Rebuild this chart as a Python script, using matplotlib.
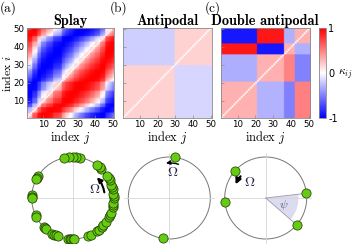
import numpy as np
import matplotlib.pyplot as plt
from matplotlib.patches import Circle, Wedge, FancyArrowPatch

plt.rcParams['mathtext.fontset'] = 'cm'
plt.rcParams['axes.unicode_minus'] = False

# === Daten ===============================================================
# Phasen der 50 Oszillatoren (Grad), in Indexreihenfolge
phase_splay = [148, 150, 152, 176, 178, 180, 205, 207, 226, 228, 230,
               240, 243, 246, 249, 264, 266, 268, 270, 272,
               292, 297, 306, 309, 315, 318, 324,
               333, 336, 339, 347, 350, 353, 360, 363, 366, 373, 376, 379,
               386, 389, 392, 406, 409, 414, 440, 445, 450, 455, 462]
anti_sizes = [29, 21]
anti_phases = [82, 261]
double_sizes = [20, 15, 6, 9]
double_phases = [6.6, 186, 319, 139]
gamma_splay, gamma_anti, gamma_double = 77, 80, 72   # Phasenversatz (Grad)

titles = ["Splay", "Antipodal", "Double antipodal"]
panel_labels = ["(a)", "(b)", "(c)"]
ticks = [10, 20, 30, 40, 50]


def expand(sizes, phases):
    return np.repeat(phases, sizes)


def coupling(phases, gamma):
    p = np.deg2rad(np.asarray(phases, dtype=float))
    k = np.cos(p[None, :] - p[:, None] - np.deg2rad(gamma))
    np.fill_diagonal(k, 0)
    return k


kappas = [coupling(phase_splay, gamma_splay),
          coupling(expand(anti_sizes, anti_phases), gamma_anti),
          coupling(expand(double_sizes, double_phases), gamma_double)]
dots = [phase_splay, anti_phases, double_phases]

# === Layout (Pixel) ======================================================
W, H = 354, 244
fig = plt.figure(figsize=(W / 100, H / 100), dpi=100)


def px_axes(x0, y0, x1, y1):
    return fig.add_axes([x0 / W, 1 - y1 / H, (x1 - x0) / W, (y1 - y0) / H])


heat_box = [(26.5, 28, 113.5, 118), (123, 28, 211.5, 118), (220.5, 28, 310, 118)]
title_cx = [70, 168, 265]
label_x = [0, 110, 205]
circ_cx = [72.7, 169.3, 265.7]
circ_cy, R = 198, 41

grey = '#8a8a8a'
for n in range(3):
    ax = px_axes(*heat_box[n])
    im = ax.imshow(kappas[n], origin='lower', cmap='bwr', vmin=-1, vmax=1,
                   extent=[0.5, 50.5, 0.5, 50.5], aspect='auto',
                   interpolation='antialiased')
    ax.set_xticks(ticks)
    ax.set_yticks(ticks)
    if n > 0:
        ax.set_yticklabels([])
    ax.tick_params(direction='in', length=2, width=0.5, color=grey,
                   labelsize=6.2, pad=1.5)
    for sp in ax.spines.values():
        sp.set_color(grey)
        sp.set_linewidth(0.6)
    ax.set_xlabel("index $j$", family='cmr10', fontsize=9, labelpad=0)
    if n == 0:
        ax.set_ylabel("index $i$", family='cmr10', fontsize=8.5, labelpad=0)
    fig.text(title_cx[n] / W, 1 - 25 / H, titles[n], ha='center',
             va='baseline', family='cmb10', fontsize=10.3)
    fig.text(label_x[n] / W, 1 - 1 / H, panel_labels[n], family='cmr10',
             fontsize=9.5, va='top', ha='left')

# Farbskala
cax = px_axes(319, 28, 326, 118)
cb = fig.colorbar(im, cax=cax, ticks=[-1, 0, 1])
cb.ax.set_yticklabels(['-1', '0', '1'])
cb.ax.tick_params(length=0, labelsize=7, pad=1.5)
cb.outline.set_edgecolor(grey)
cb.outline.set_linewidth(0.6)
fig.text(338 / W, 1 - 74 / H, r'$\kappa_{ij}$', fontsize=8.5, va='center')

# === Phasenkreise ========================================================
for n in range(3):
    cx = circ_cx[n]
    ax = px_axes(cx - 1.2 * R, circ_cy - 1.2 * R, cx + 1.2 * R, circ_cy + 1.2 * R)
    ax.set_xlim(-1.2, 1.2)
    ax.set_ylim(-1.2, 1.2)
    ax.set_aspect('equal')
    ax.axis('off')
    ax.plot([-1.1, 1.1], [0, 0], color='#d6d6d6', lw=0.6)
    ax.plot([0, 0], [-1.1, 1.1], color='#d6d6d6', lw=0.6)
    ax.add_patch(Circle((0, 0), 1, fill=False, ec='#777777', lw=0.7))
    ph = np.deg2rad(dots[n])
    ax.scatter(np.cos(ph), np.sin(ph), s=44, c='#66cc11', ec='#1a3300',
               lw=0.5, zorder=5, clip_on=False)

    if n == 0:
        A, B, rad, lw, ms = (0.78, 0.07), (0.54, 0.55), 0.2, 1.5, 7
        om = (0.545, 0.21)
    elif n == 1:
        A, B, rad, lw, ms = (0.29, 0.80), (-0.15, 0.84), 0.15, 1.0, 6
        om = (0.08, 0.63)
    else:
        A, B, rad, lw, ms = (-0.57, 0.58), (-0.76, 0.27), 0.1, 1.6, 8
        om = (-0.40, 0.40)
        ax.add_patch(Wedge((0, 0), 0.8, double_phases[2] - 360,
                           double_phases[0], fc='#dcdcf0', ec='none', zorder=1))
        for p in [double_phases[0], double_phases[2]]:
            ax.plot([0, np.cos(np.deg2rad(p))], [0, np.sin(np.deg2rad(p))],
                    color='#9a9aaa', lw=0.6, zorder=2)
        ax.text(0.43, -0.17, r'$\psi$', fontsize=8.5, color='#555570',
                ha='center', va='center', zorder=3)
    ax.add_patch(FancyArrowPatch(A, B, connectionstyle=f'arc3,rad={rad}',
                                 arrowstyle='-|>', mutation_scale=ms,
                                 lw=lw, color='black', zorder=4))
    ax.text(om[0], om[1], r'$\Omega$', fontsize=10, color='#222244',
            ha='center', va='center', zorder=4)

fig.savefig('out.png', dpi=100)
